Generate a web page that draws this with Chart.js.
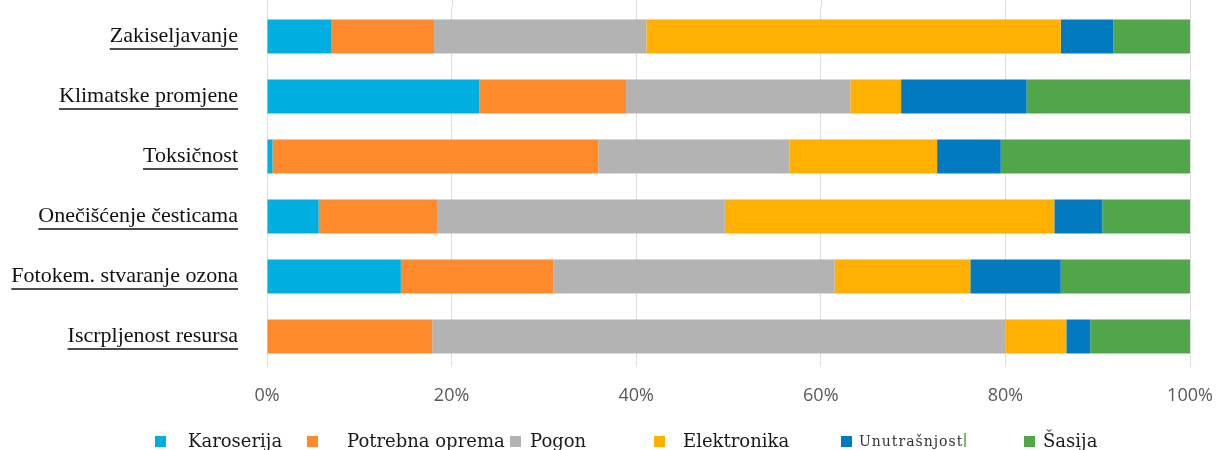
<!DOCTYPE html>
<html>
<head>
<meta charset="utf-8">
<script src="https://cdn.jsdelivr.net/npm/chart.js@4"></script>
<style>
    body { margin: 0; background: #fff; }
    #wrap { width: 1218px; height: 450px; }
</style>
</head>
<body>
<div id="wrap"><canvas id="chart" width="1218" height="450"></canvas></div>
<script>
// --- DATA ---
const categories = ['Zakiseljavanje', 'Klimatske promjene', 'Toksičnost', 'Onečišćenje česticama', 'Fotokem. stvaranje ozona', 'Iscrpljenost resursa'];
const seriesNames = ['Karoserija', 'Potrebna oprema', 'Pogon', 'Elektronika', 'Unutrašnjost', 'Šasija'];
const karoserija     = [7.0, 23.0, 0.6, 5.6, 14.5, 0];
const potrebnaOprema = [11.1, 15.9, 35.3, 12.9, 16.5, 17.9];
const pogon          = [23.0, 24.3, 20.7, 31.1, 30.5, 62.1];
const elektronika    = [44.9, 5.5, 16.0, 35.7, 14.7, 6.6];
const unutrasnjost   = [5.7, 13.6, 6.9, 5.2, 9.8, 2.6];
const sasija         = [8.3, 17.7, 20.5, 9.5, 14.0, 10.8];
const xTicks = [0, 20, 40, 60, 80, 100];

const seriesValues = [karoserija, potrebnaOprema, pogon, elektronika, unutrasnjost, sasija];
const seriesColors = ['#00aedf', '#fe8a2c', '#b3b3b3', '#ffb000', '#017abf', '#52a64a'];

// legend placement (marker x, text x), drawn by hand below
const legendSlots = [[155, 188], [307, 347], [510, 530], [654, 683], [841, 859], [1024, 1043]];

// --- PLUGINS ---
// gridlines run a little above the plot area in the original
const gridTop = {
    id: 'gridTop',
    beforeDatasetsDraw(chart) {
        const ctx = chart.ctx;
        const x = chart.scales.x;
        ctx.save();
        ctx.strokeStyle = '#dedede';
        ctx.lineWidth = 1;
        x.ticks.forEach(t => {
            const px = Math.round(x.getPixelForValue(t.value)) + 0.5;
            ctx.beginPath();
            ctx.moveTo(px, 0);
            ctx.lineTo(px, chart.chartArea.top);
            ctx.stroke();
        });
        ctx.restore();
    }
};

const underlineLabels = {
    id: 'underlineLabels',
    afterDraw(chart) {
        const ctx = chart.ctx;
        const y = chart.scales.y;
        ctx.save();
        ctx.font = '22px "Liberation Serif"';
        ctx.strokeStyle = '#111';
        ctx.lineWidth = 1.5;
        y.ticks.forEach((t, i) => {
            const py = y.getPixelForTick(i);
            const w = ctx.measureText(categories[i]).width;
            ctx.beginPath();
            ctx.moveTo(238 - w, py + 12.5);
            ctx.lineTo(238, py + 12.5);
            ctx.stroke();
        });
        ctx.restore();
    }
};

const handLegend = {
    id: 'handLegend',
    afterDraw(chart) {
        const ctx = chart.ctx;
        ctx.save();
        ctx.textBaseline = 'alphabetic';
        chart.data.datasets.forEach((ds, i) => {
            const [bx, tx] = legendSlots[i];
            ctx.fillStyle = ds.backgroundColor;
            ctx.fillRect(bx, 436, 11, 11);
            ctx.fillStyle = '#1a1a1a';
            if (ds.label === 'Unutrašnjost') {
                ctx.font = '14px "DejaVu Serif"';
                ctx.letterSpacing = '1px';
                ctx.fillStyle = '#333';
                ctx.fillText(ds.label, tx, 446);
                const w = ctx.measureText(ds.label).width;
                ctx.fillStyle = '#52a64a';
                ctx.fillRect(tx + w + 1, 433, 1.5, 14);
                ctx.letterSpacing = '0px';
            } else {
                ctx.font = '18px "DejaVu Serif"';
                ctx.fillText(ds.label, tx, 447);
            }
        });
        ctx.restore();
    }
};

// --- CHART ---
new Chart(document.getElementById('chart'), {
    type: 'bar',
    data: {
        labels: categories,
        datasets: seriesNames.map((name, i) => ({
            label: name,
            data: seriesValues[i],
            backgroundColor: seriesColors[i],
            borderWidth: 0,
            barPercentage: 0.57,
            categoryPercentage: 1.0
        }))
    },
    options: {
        indexAxis: 'y',
        responsive: false,
        animation: false,
        layout: { padding: { top: 6.5, right: 28, bottom: 43.5, left: 0 } },
        plugins: { legend: { display: false }, tooltip: { enabled: false } },
        scales: {
            x: {
                stacked: true, min: 0, max: 100,
                afterBuildTicks: s => { s.ticks = xTicks.map(v => ({ value: v })); },
                afterFit: s => { s.height = 40; s.paddingLeft = 0; s.paddingRight = 0; },
                ticks: {
                    callback: v => v + '%',
                    color: '#595959',
                    font: { family: '"Open Sans"', size: 18 },
                    padding: 19
                },
                grid: { color: '#dedede', lineWidth: 1, drawTicks: false },
                border: { display: false }
            },
            y: {
                stacked: true,
                afterFit: s => { s.width = 267; s.paddingTop = 0; s.paddingBottom = 0; },
                ticks: {
                    color: '#111',
                    font: { family: '"Liberation Serif"', size: 22 },
                    padding: 29
                },
                grid: { display: false, drawTicks: false },
                border: { display: false }
            }
        }
    },
    plugins: [gridTop, underlineLabels, handLegend]
});
</script>
</body>
</html>
